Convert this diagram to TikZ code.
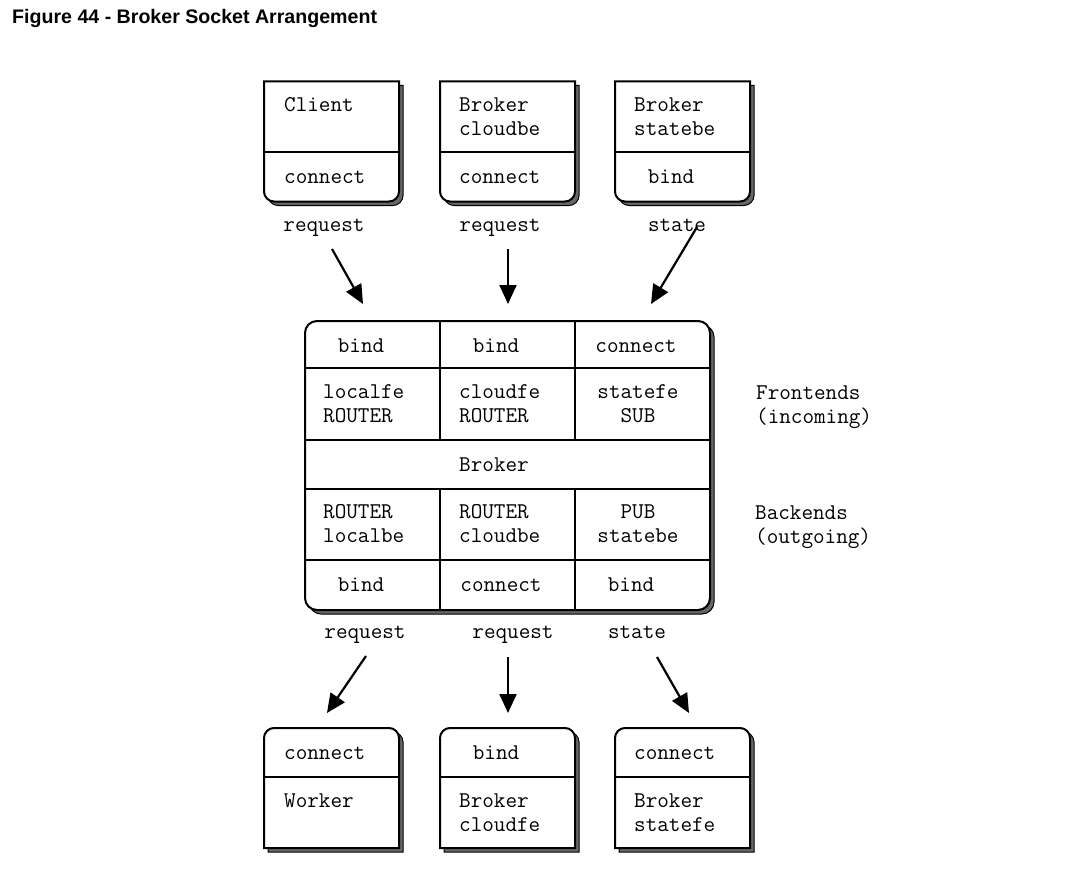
\documentclass[tikz,border=0pt]{standalone}
\usepackage{fontspec}
\newfontfamily\figfont{Liberation Sans}
\usetikzlibrary{arrows.meta}
\tikzstyle{sock-text}=[
font=\ttfamily\fontsize{22.5}{24}\selectfont,
inner sep=0pt,
]
\tikzstyle{sock-line}=[
draw,
line width=2pt,
]
\tikzstyle{sock-frame}=[
draw,
fill=white,
line width=2pt,
]
\tikzstyle{sock-shadow}=[
draw,
fill=black!60,
line width=1pt,
]
\tikzstyle{sock-flow}=[
line width=2.2pt,
-{Triangle[length=19pt, width=17pt]},
]
\begin{document}
\begin{tikzpicture}[x=1pt, y=-1pt]
        \useasboundingbox (0,0) rectangle (1085,875);
        \newcommand{\peerbox}[4]
        {
          % #1 left, #2 top, #3 divider, #4 = 1 round bottom, 0 round top
          \foreach \s/\st in {4/sock-shadow, 0/sock-frame}
            {
            \pgfmathsetmacro{\xa}{#1+\s}
            \pgfmathsetmacro{\xb}{#1+135+\s}
            \pgfmathsetmacro{\ya}{#2+\s}
            \pgfmathsetmacro{\yb}{#2+120+\s}
            \ifnum 1=#4
              \filldraw[\st] (\xa,\ya) -- (\xb,\ya) -- (\xb,\yb-10)
                .. controls (\xb,\yb-4.5) and (\xb-4.5,\yb) .. (\xb-10,\yb) -- (\xa+10,\yb)
                .. controls (\xa+4.5,\yb) and (\xa,\yb-4.5) .. (\xa,\yb-10) -- cycle;
            \else
              \filldraw[\st] (\xa,\yb) -- (\xa,\ya+10)
                .. controls (\xa,\ya+4.5) and (\xa+4.5,\ya) .. (\xa+10,\ya) -- (\xb-10,\ya)
                .. controls (\xb-4.5,\ya) and (\xb,\ya+4.5) .. (\xb,\ya+10) -- (\xb,\yb) -- cycle;
            \fi
            }
          \draw[sock-line] (#1,{#2+#3}) -- ({#1+135},{#2+#3});
        }

        \node[font=\figfont\bfseries\fontsize{19.6}{22}\selectfont, inner sep=0pt, anchor=base west] (title) at (12,24) {Figure 44 - Broker Socket Arrangement};

        % peers above
        \peerbox{264}{81.5}{70.5}{1}
        \peerbox{440}{81.5}{70.5}{1}
        \peerbox{615}{81.5}{70.5}{1}

        % broker
        \filldraw[sock-shadow, rounded corners=12pt] (309,325) rectangle (714,614);
        \filldraw[sock-frame, rounded corners=12pt] (305,321) rectangle (710,610);
        \foreach \y in {368, 440, 489, 560}
          \draw[sock-line] (305,\y) -- (710,\y);
        \foreach \x in {440, 575}
          {
          \draw[sock-line] (\x,321) -- (\x,440);
          \draw[sock-line] (\x,489) -- (\x,610);
          }

        % peers below
        \peerbox{264}{728}{48.5}{0}
        \peerbox{440}{728}{48.5}{0}
        \peerbox{615}{728}{48.5}{0}

        \begin{scope}[every node/.style=sock-text]
          \node[anchor=base west] (client) at (284,111.5) {Client};
          \node[anchor=base west] (clientcon) at (284,183) {connect};
          \node[anchor=north west, align=left] (cloudbe) at (459,97.75) {Broker\\cloudbe};
          \node[anchor=base west] (cloudbecon) at (459,183) {connect};
          \node[anchor=north west, align=left] (statebe) at (634,97.75) {Broker\\statebe};
          \node[anchor=base] (statebebind) at (671,183) {bind};

          \node[anchor=base] (reqa) at (324,231.5) {request};
          \node[anchor=base] (reqb) at (500,231.5) {request};
          \node[anchor=base] (statea) at (677,231.5) {state};

          \node[anchor=base] (localfebind) at (361,352) {bind};
          \node[anchor=base] (cloudfebind) at (496,352) {bind};
          \node[anchor=base] (statefecon) at (636,352) {connect};
          \node[anchor=north west, align=left] (localfe) at (323,384.75) {localfe\\ROUTER};
          \node[anchor=north west, align=left] (cloudfe) at (459,384.75) {cloudfe\\ROUTER};
          \node[anchor=north, align=center] (statefe) at (638,384.75) {statefe\\SUB};
          \node[anchor=base] (broker) at (494,471.5) {Broker};
          \node[anchor=north west, align=left] (localbe) at (323,504.75) {ROUTER\\localbe};
          \node[anchor=north west, align=left] (cloudbeout) at (459,504.75) {ROUTER\\cloudbe};
          \node[anchor=north, align=center] (statebeout) at (638,504.75) {PUB\\statebe};
          \node[anchor=base] (localbebind) at (361,591) {bind};
          \node[anchor=base] (cloudbeoutcon) at (501,591) {connect};
          \node[anchor=base] (statebeoutbind) at (631,591) {bind};

          \node[anchor=north west, align=left] (frontends) at (756,385.5) {Frontends\\(incoming)};
          \node[anchor=north west, align=left] (backends) at (755,505.5) {Backends\\(outgoing)};

          \node[anchor=base] (reqc) at (365,638.3) {request};
          \node[anchor=base] (reqd) at (513,638.3) {request};
          \node[anchor=base] (stateb) at (637,638.3) {state};

          \node[anchor=base west] (workercon) at (284,759) {connect};
          \node[anchor=base west] (worker) at (284,807.3) {Worker};
          \node[anchor=base] (cloudfebind2) at (496,759) {bind};
          \node[anchor=north west, align=left] (cloudfepeer) at (459,793.5) {Broker\\cloudfe};
          \node[anchor=base west] (statefecon2) at (634,759) {connect};
          \node[anchor=north west, align=left] (statefepeer) at (634,793.5) {Broker\\statefe};
        \end{scope}

        % flows
        \coordinate (ina) at (332,249);
        \coordinate (inatip) at (363,304);
        \coordinate (inb) at (508,249);
        \coordinate (inbtip) at (508,304);
        \coordinate (inc) at (697,227);
        \coordinate (inctip) at (651,304);
        \coordinate (outa) at (366,656);
        \coordinate (outatip) at (327,713);
        \coordinate (outb) at (508,657);
        \coordinate (outbtip) at (508,713);
        \coordinate (outc) at (657,657);
        \coordinate (outctip) at (689,713);
        \draw[sock-flow] (ina) -- (inatip);
        \draw[sock-flow] (inb) -- (inbtip);
        \draw[sock-flow] (inc) -- (inctip);
        \draw[sock-flow] (outa) -- (outatip);
        \draw[sock-flow] (outb) -- (outbtip);
        \draw[sock-flow] (outc) -- (outctip);
      \end{tikzpicture}
\end{document}
